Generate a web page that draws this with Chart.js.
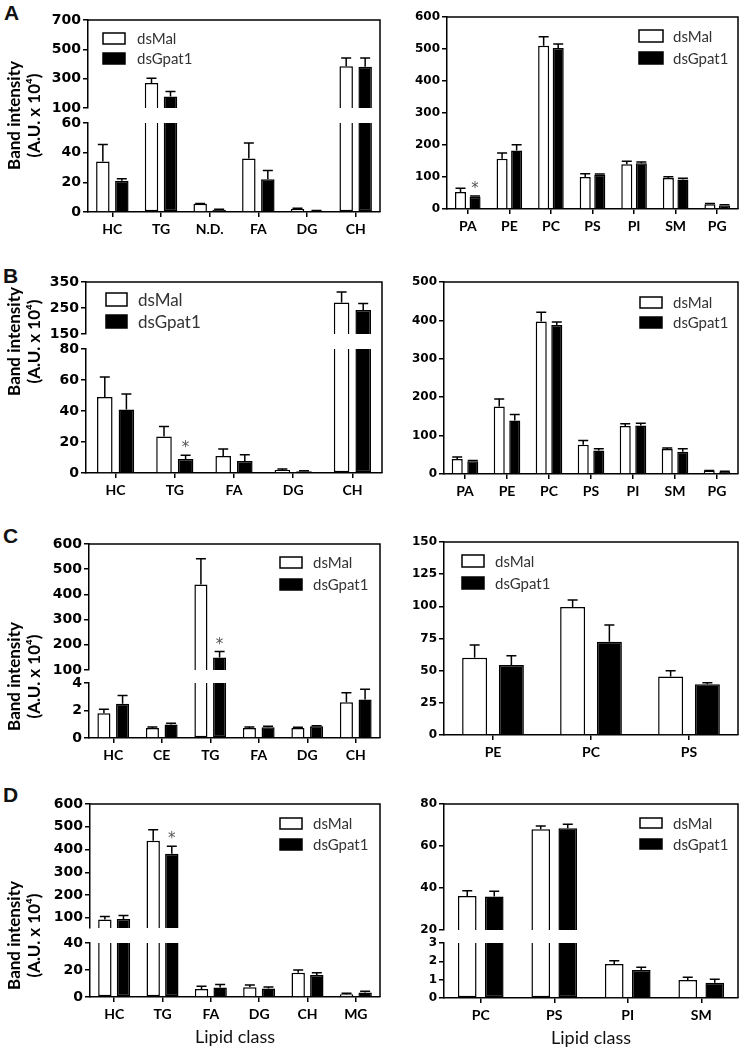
<!DOCTYPE html>
<html>
<head>
<meta charset="utf-8">
<script src="https://cdn.jsdelivr.net/npm/chart.js@4.4.0/dist/chart.umd.min.js"></script>
<style>
  body { margin: 0; background: #fff; }
  #fig { position: relative; width: 741px; height: 1050px; overflow: hidden; background: #fff; }
  #fig canvas { position: absolute; }
  .tag { position: absolute; font: bold 21px "Liberation Sans", Arial, sans-serif; line-height: 1; color: #111; }
</style>
</head>
<body>
<div id="fig">
  <div class="tag" style="left:4px;top:2px">A</div>
  <div class="tag" style="left:3px;top:265px">B</div>
  <div class="tag" style="left:3px;top:525px">C</div>
  <div class="tag" style="left:3px;top:784px">D</div>
</div>
<script>
const seriesNames = ['dsMal', 'dsGpat1'];

// A, neutral lipids (broken axis)
const aLeftLabels = ['HC', 'TG', 'N.D.', 'FA', 'DG', 'CH'];
const aLeftMal = [34, 270, 5.5, 36, 2, 385];
const aLeftMalErr = [45.5, 303, 5.8, 46.5, 2.5, 441];
const aLeftGpat = [21, 178, 1.3, 22, 0.8, 382];
const aLeftGpatErr = [22.5, 212, 1.8, 28, 1, 441];
const aLeftStars = [0, 0, 0, 0, 0, 0];
const aLeftTicksHigh = [100, 300, 500, 700];
const aLeftTicksLow = [0, 20, 40, 60];

// A, phospholipids
const aRightLabels = ['PA', 'PE', 'PC', 'PS', 'PI', 'SM', 'PG'];
const aRightMal = [53, 157, 510, 100, 140, 97, 15];
const aRightMalErr = [65, 175, 538, 110, 149, 101, 17];
const aRightGpat = [38, 183, 503, 107, 143, 92, 11];
const aRightGpatErr = [41, 201, 516, 109, 147, 96, 13];
const aRightStars = [1, 0, 0, 0, 0, 0, 0];
const aRightTicks = [0, 100, 200, 300, 400, 500, 600];

// B
const bLeftLabels = ['HC', 'TG', 'FA', 'DG', 'CH'];
const bLeftMal = [49, 23.5, 11, 2, 271];
const bLeftMalErr = [62, 30, 15.5, 2.6, 312];
const bLeftGpat = [41, 9, 7.8, 1.2, 242];
const bLeftGpatErr = [51, 11.5, 11.8, 1.5, 267];
const bLeftStars = [0, 1, 0, 0, 0];
const bLeftTicksHigh = [150, 250, 350];
const bLeftTicksLow = [0, 20, 40, 60, 80];

const bRightLabels = ['PA', 'PE', 'PC', 'PS', 'PI', 'SM', 'PG'];
const bRightMal = [39, 176, 397, 76, 125, 65, 8];
const bRightMalErr = [44, 195, 421, 87, 131, 68, 9];
const bRightGpat = [33, 139, 388, 61, 126, 58, 5];
const bRightGpatErr = [35, 155, 396, 66, 132, 66, 7];
const bRightStars = [0, 0, 0, 0, 0, 0, 0];
const bRightTicks = [0, 100, 200, 300, 400, 500];

// C
const cLeftLabels = ['HC', 'CE', 'TG', 'FA', 'DG', 'CH'];
const cLeftMal = [1.8, 0.72, 439, 0.72, 0.72, 2.6];
const cLeftMalErr = [2.1, 0.8, 541, 0.8, 0.78, 3.3];
const cLeftGpat = [2.5, 0.98, 150, 0.78, 0.85, 2.8];
const cLeftGpatErr = [3.1, 1.08, 173, 0.85, 0.9, 3.55];
const cLeftStars = [0, 0, 1, 0, 0, 0];
const cLeftTicksHigh = [100, 200, 300, 400, 500, 600];
const cLeftTicksLow = [0, 2, 4];

const cRightLabels = ['PE', 'PC', 'PS'];
const cRightMal = [60, 99.5, 45.5];
const cRightMalErr = [70, 105, 50];
const cRightGpat = [54.5, 72.5, 39.5];
const cRightGpatErr = [61.5, 85.5, 40.7];
const cRightStars = [0, 0, 0];
const cRightTicks = [0, 25, 50, 75, 100, 125, 150];

// D
const dLeftLabels = ['HC', 'TG', 'FA', 'DG', 'CH', 'MG'];
const dLeftMal = [92, 439, 6, 7.3, 18, 2];
const dLeftMalErr = [106, 487, 8, 8.8, 20, 2.8];
const dLeftGpat = [95, 381, 7, 6.3, 16.3, 3.3];
const dLeftGpatErr = [110, 414, 9.3, 7.5, 18, 4.2];
const dLeftStars = [0, 1, 0, 0, 0, 0];
const dLeftTicksHigh = [100, 200, 300, 400, 500, 600];
const dLeftTicksLow = [0, 20, 40];

const dRightLabels = ['PC', 'PS', 'PI', 'SM'];
const dRightMal = [36.2, 68, 1.86, 0.98];
const dRightMalErr = [38.7, 69.5, 2.03, 1.13];
const dRightGpat = [35.9, 68.4, 1.53, 0.83];
const dRightGpatErr = [38.4, 70.3, 1.68, 1.02];
const dRightStars = [0, 0, 0, 0];
const dRightTicksHigh = [20, 40, 60, 80];
const dRightTicksLow = [0, 1, 2, 3];

const yTitle = ['Band intensity', '(A.U. x 10\u2074)'];

// box round the plot: top and right edges
const frame = {
  id: 'frame',
  afterDatasetsDraw(chart) {
    const { ctx, chartArea: a } = chart;
    ctx.save();
    ctx.strokeStyle = '#000';
    ctx.lineWidth = 1.5;
    ctx.beginPath();
    ctx.moveTo(a.left, a.top);
    ctx.lineTo(a.right, a.top);
    ctx.lineTo(a.right, a.bottom);
    ctx.stroke();
    ctx.restore();
  },
};

// one-sided error bars + significance stars
const errorBars = {
  id: 'errorBars',
  afterDatasetsDraw(chart) {
    const { ctx } = chart;
    ctx.save();
    ctx.strokeStyle = '#000';
    ctx.lineWidth = 1.5;
    chart.data.datasets.forEach((ds, i) => {
      const meta = chart.getDatasetMeta(i);
      meta.data.forEach((bar, j) => {
        const v = ds.data[j];
        if (v == null || ds.raw[j] > v) return;
        const yTop = meta.yScale.getPixelForValue(ds.err[j]);
        ctx.beginPath();
        ctx.moveTo(bar.x, bar.y);
        ctx.lineTo(bar.x, yTop);
        ctx.moveTo(bar.x - 5, yTop);
        ctx.lineTo(bar.x + 5, yTop);
        ctx.stroke();
        if (ds.stars && ds.stars[j]) {
          ctx.fillStyle = '#555';
          ctx.font = '15px "DejaVu Sans", sans-serif';
          ctx.textAlign = 'center';
          ctx.textBaseline = 'alphabetic';
          ctx.fillText('*', bar.x, yTop - 3);
        }
      });
    });
    ctx.restore();
  },
};

// legend drawn as two stacked rows
const keyBox = {
  id: 'keyBox',
  afterDraw(chart, args, o) {
    const { ctx } = chart;
    ctx.save();
    ctx.lineWidth = 1.5;
    ctx.strokeStyle = '#000';
    ctx.font = `${o.size}px Lato, "Open Sans", sans-serif`;
    ctx.textBaseline = 'middle';
    ctx.textAlign = 'left';
    [0, 1].forEach((k) => {
      const ds = chart.data.datasets[k];
      const y = o.y + k * o.row;
      ctx.fillStyle = ds.backgroundColor;
      ctx.fillRect(o.x, y, o.w, o.h);
      ctx.strokeRect(o.x, y, o.w, o.h);
      ctx.fillStyle = '#333';
      ctx.fillText(ds.label, o.tx, y + o.h / 2 + 1);
    });
    ctx.restore();
  },
};

const fig = document.getElementById('fig');

function yAxis(r, ticks, font, w, extra) {
  return Object.assign({
    type: 'linear',
    position: 'left',
    min: r[0],
    max: r[1],
    stacked: false,
    afterBuildTicks: (s) => { s.ticks = ticks.map((v) => ({ value: v })); },
    afterFit: (s) => { s.width = w; },
    grid: { drawOnChartArea: false, tickLength: 5, color: '#000', lineWidth: 1.5 },
    border: { color: '#000', width: 1.5 },
    ticks: { color: '#000', font, padding: 2, autoSkip: false },
  }, extra);
}

function panel(p) {
  const cv = document.createElement('canvas');
  cv.width = p.w;
  cv.height = p.h;
  cv.style.left = `${p.left}px`;
  cv.style.top = `${p.top}px`;
  cv.style.width = `${p.w}px`;
  cv.style.height = `${p.h}px`;
  fig.appendChild(cv);

  const bar = (k, vals, errs, stars, axis, data) => ({
    label: seriesNames[k],
    yAxisID: axis,
    stack: k ? 'gpat' : 'mal',
    data,
    raw: vals,
    err: errs,
    stars,
    backgroundColor: k ? '#000' : '#fff',
    borderColor: '#000',
    borderWidth: 1.5,
    categoryPercentage: p.cat,
    barPercentage: p.barPct,
  });

  const scales = {
    x: {
      offset: true,
      z: 1,
      afterFit: (s) => { s.height = p.xH; },
      grid: { offset: false, drawOnChartArea: false, tickLength: 5, color: '#000', lineWidth: 1.5 },
      border: { color: '#000', width: 1.5 },
      ticks: { color: '#000', font: { family: 'Lato', size: 14, weight: 'bold' }, padding: 4, maxRotation: 0, autoSkip: false },
      title: { display: !!p.xTitle, text: p.xTitle, color: '#111', font: { family: 'Lato', size: 18 }, padding: { top: 0, bottom: 0 } },
    },
  };
  let datasets;

  if (p.high) {
    const lowMax = p.low.range[1];
    const highMin = p.high.range[0];
    const lowSkip = (vals) => (c) => (vals[c.dataIndex] > lowMax ? 'top' : 'start');
    datasets = [
      bar(0, p.mal, p.malErr, null, 'yLow', p.mal.map((v) => Math.min(v, lowMax))),
      bar(1, p.gpat, p.gpatErr, p.stars, 'yLow', p.gpat.map((v) => Math.min(v, lowMax))),
      bar(0, p.mal, p.malErr, null, 'yHigh', p.mal.map((v) => (v > highMin ? v : null))),
      bar(1, p.gpat, p.gpatErr, p.stars, 'yHigh', p.gpat.map((v) => (v > highMin ? v : null))),
    ];
    datasets[0].borderSkipped = lowSkip(p.mal);
    datasets[1].borderSkipped = lowSkip(p.gpat);
    scales.yHigh = yAxis(p.high.range, p.high.ticks, p.tickFont, p.yW, { stack: 'v', stackWeight: p.high.px, weight: 3 });
    scales.yGap = {
      type: 'linear',
      position: 'left',
      stack: 'v',
      stackWeight: p.gap,
      weight: 2,
      min: 0,
      max: 1,
      afterFit: (s) => { s.width = p.yW; },
      grid: { display: false },
      border: { display: false },
      ticks: { display: false },
      title: {
        display: !!p.yTitle,
        text: p.yTitle,
        color: '#000',
        font: { family: 'Lato', size: 17, weight: 'bold', lineHeight: 1.2 },
        padding: { top: 4, bottom: 0 },
      },
    };
    scales.yLow = yAxis(p.low.range, p.low.ticks, p.tickFont, p.yW, { stack: 'v', stackWeight: p.low.px, weight: 1 });
  } else {
    datasets = [
      bar(0, p.mal, p.malErr, null, 'y', p.mal),
      bar(1, p.gpat, p.gpatErr, p.stars, 'y', p.gpat),
    ];
    scales.y = yAxis(p.y.range, p.y.ticks, p.tickFont, p.yW, {});
  }

  return new Chart(cv, {
    type: 'bar',
    data: { labels: p.labels, datasets },
    options: {
      responsive: false,
      animation: false,
      devicePixelRatio: 1,
      layout: { padding: { top: p.padT, right: p.padR, left: 0, bottom: 0 } },
      scales,
      plugins: {
        legend: { display: false },
        tooltip: { enabled: false },
        keyBox: p.key,
      },
    },
    plugins: [frame, errorBars, keyBox],
  });
}

const leftFont = { family: 'DejaVu Sans', size: 14, weight: 'bold' };
const rightFont = { family: 'DejaVu Sans', size: 12, weight: 'bold' };

panel({
  left: 0, top: 0, w: 385, h: 242, yW: 88, padT: 20, padR: 5, xH: 30, cat: 0.78, barPct: 0.71,
  labels: aLeftLabels, mal: aLeftMal, malErr: aLeftMalErr, gpat: aLeftGpat, gpatErr: aLeftGpatErr, stars: aLeftStars,
  high: { range: [100, 700], ticks: aLeftTicksHigh, px: 88 }, gap: 15, low: { range: [0, 60], ticks: aLeftTicksLow, px: 89 },
  tickFont: leftFont, yTitle,
  key: { x: 103, y: 33, w: 22, h: 11, row: 20, tx: 137, size: 15 },
});

panel({
  left: 385, top: 0, w: 356, h: 239, yW: 62, padT: 17, padR: 3, xH: 30, cat: 0.70, barPct: 0.76,
  labels: aRightLabels, mal: aRightMal, malErr: aRightMalErr, gpat: aRightGpat, gpatErr: aRightGpatErr, stars: aRightStars,
  y: { range: [0, 600], ticks: aRightTicks },
  tickFont: rightFont,
  key: { x: 254, y: 30, w: 24, h: 12, row: 22, tx: 288, size: 15 },
});

panel({
  left: 0, top: 250, w: 385, h: 253, yW: 86, padT: 32, padR: 3, xH: 30, cat: 0.73, barPct: 0.72,
  labels: bLeftLabels, mal: bLeftMal, malErr: bLeftMalErr, gpat: bLeftGpat, gpatErr: bLeftGpatErr, stars: bLeftStars,
  high: { range: [150, 350], ticks: bLeftTicksHigh, px: 52 }, gap: 15, low: { range: [0, 80], ticks: bLeftTicksLow, px: 124 },
  tickFont: leftFont, yTitle,
  key: { x: 106, y: 43, w: 21, h: 13, row: 22, tx: 138, size: 17 },
});

panel({
  left: 385, top: 250, w: 356, h: 254, yW: 59, padT: 32, padR: 3, xH: 30, cat: 0.74, barPct: 0.71,
  labels: bRightLabels, mal: bRightMal, malErr: bRightMalErr, gpat: bRightGpat, gpatErr: bRightGpatErr, stars: bRightStars,
  y: { range: [0, 500], ticks: bRightTicks },
  tickFont: rightFont,
  key: { x: 255, y: 47, w: 22, h: 11, row: 20, tx: 288, size: 15 },
});

panel({
  left: 0, top: 510, w: 385, h: 258, yW: 89, padT: 34, padR: 5, xH: 30, cat: 0.77, barPct: 0.70,
  labels: cLeftLabels, mal: cLeftMal, malErr: cLeftMalErr, gpat: cLeftGpat, gpatErr: cLeftGpatErr, stars: cLeftStars,
  high: { range: [100, 600], ticks: cLeftTicksHigh, px: 126 }, gap: 13, low: { range: [0, 4], ticks: cLeftTicksLow, px: 55 },
  tickFont: leftFont, yTitle,
  key: { x: 280, y: 47, w: 22, h: 11, row: 22, tx: 313, size: 15 },
});

panel({
  left: 385, top: 510, w: 356, h: 255, yW: 59, padT: 32, padR: 3, xH: 30, cat: 0.75, barPct: 0.68,
  labels: cRightLabels, mal: cRightMal, malErr: cRightMalErr, gpat: cRightGpat, gpatErr: cRightGpatErr, stars: cRightStars,
  y: { range: [0, 150], ticks: cRightTicks },
  tickFont: rightFont,
  key: { x: 77, y: 45, w: 22, h: 12, row: 22, tx: 110, size: 15 },
});

panel({
  left: 0, top: 770, w: 385, h: 278, yW: 90, padT: 34, padR: 5, xH: 51, cat: 0.77, barPct: 0.72,
  labels: dLeftLabels, mal: dLeftMal, malErr: dLeftMalErr, gpat: dLeftGpat, gpatErr: dLeftGpatErr, stars: dLeftStars,
  high: { range: [55, 600], ticks: dLeftTicksHigh, px: 124 }, gap: 15, low: { range: [0, 40], ticks: dLeftTicksLow, px: 54 },
  tickFont: leftFont, yTitle, xTitle: 'Lipid class',
  key: { x: 280, y: 48, w: 22, h: 11, row: 21, tx: 313, size: 15 },
});

panel({
  left: 385, top: 770, w: 356, h: 279, yW: 59, padT: 34, padR: 3, xH: 51, cat: 0.735, barPct: 0.69,
  labels: dRightLabels, mal: dRightMal, malErr: dRightMalErr, gpat: dRightGpat, gpatErr: dRightGpatErr, stars: dRightStars,
  high: { range: [20, 80], ticks: dRightTicksHigh, px: 126 }, gap: 13, low: { range: [0, 3], ticks: dRightTicksLow, px: 55 },
  tickFont: rightFont, xTitle: 'Lipid class',
  key: { x: 255, y: 48, w: 22, h: 10, row: 21, tx: 288, size: 15 },
});
</script>
</body>
</html>
